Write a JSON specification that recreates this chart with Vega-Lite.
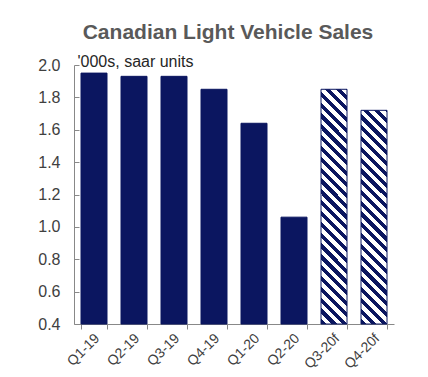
{
  "$schema": "https://vega.github.io/schema/vega-lite/v6.json",
  "width": 320,
  "height": 259,
  "autosize": "none",
  "padding": {"left": 74, "top": 65, "right": 34, "bottom": 53},
  "config": {"view": {"stroke": null}, "font": "Liberation Sans"},
  "title": {"text": "Canadian Light Vehicle Sales", "fontSize": 21, "fontWeight": "bold", "color": "#595959", "anchor": "middle", "frame": "group", "dx": -6, "offset": 10},
  "data": {"values": [
    {"quarter": "Q1-19", "value": 1.95},
    {"quarter": "Q2-19", "value": 1.93},
    {"quarter": "Q3-19", "value": 1.93},
    {"quarter": "Q4-19", "value": 1.85},
    {"quarter": "Q1-20", "value": 1.64},
    {"quarter": "Q2-20", "value": 1.06},
    {"quarter": "Q3-20f", "value": 1.85},
    {"quarter": "Q4-20f", "value": 1.72}
  ]},
  "mark": {"type": "bar", "stroke": "#0b1660", "strokeWidth": 1},
  "encoding": {
    "x": {"field": "quarter", "type": "nominal", "sort": null,
      "scale": {"paddingInner": 0.35, "paddingOuter": 0.175},
      "axis": {"title": null, "labelAngle": -45, "labelFontSize": 14, "labelColor": "#404040", "domainColor": "#888888", "tickColor": "#888888", "tickSize": 5, "tickBand": "extent", "labelPadding": 2, "labelOffset": -2}},
    "y": {"field": "value", "type": "quantitative",
      "scale": {"domain": [0.4, 2.0], "zero": false, "nice": false},
      "axis": {"values": [0.4, 0.6, 0.8, 1.0, 1.2, 1.4, 1.6, 1.8, 2.0], "format": ".1f", "grid": false, "labelFontSize": 16, "labelColor": "#404040", "domainColor": "#888888", "tickColor": "#888888", "tickSize": -5, "labelPadding": 19,
        "title": "'000s, saar units", "titleAngle": 0, "titleAlign": "left", "titleBaseline": "alphabetic", "titleX": 3, "titleY": 1, "titleFontSize": 16, "titleFontWeight": "normal", "titleColor": "#262626"}},
    "y2": {"datum": 0.4},
    "fill": {
      "condition": [
        {"test": "datum.quarter === 'Q3-20f'", "value": {"gradient": "linear", "x1": 0, "y1": 1, "x2": 0.12195, "y2": -0.0976, "stops": [
          {"offset": 0, "color": "#0b1660"}, {"offset": 0.02, "color": "#0b1660"}, {"offset": 0.02, "color": "#ffffff"}, {"offset": 0.04154, "color": "#ffffff"},
          {"offset": 0.04154, "color": "#0b1660"}, {"offset": 0.06154, "color": "#0b1660"}, {"offset": 0.06154, "color": "#ffffff"}, {"offset": 0.08308, "color": "#ffffff"},
          {"offset": 0.08308, "color": "#0b1660"}, {"offset": 0.10308, "color": "#0b1660"}, {"offset": 0.10308, "color": "#ffffff"}, {"offset": 0.12462, "color": "#ffffff"},
          {"offset": 0.12462, "color": "#0b1660"}, {"offset": 0.14462, "color": "#0b1660"}, {"offset": 0.14462, "color": "#ffffff"}, {"offset": 0.16615, "color": "#ffffff"},
          {"offset": 0.16615, "color": "#0b1660"}, {"offset": 0.18615, "color": "#0b1660"}, {"offset": 0.18615, "color": "#ffffff"}, {"offset": 0.20769, "color": "#ffffff"},
          {"offset": 0.20769, "color": "#0b1660"}, {"offset": 0.22769, "color": "#0b1660"}, {"offset": 0.22769, "color": "#ffffff"}, {"offset": 0.24923, "color": "#ffffff"},
          {"offset": 0.24923, "color": "#0b1660"}, {"offset": 0.26923, "color": "#0b1660"}, {"offset": 0.26923, "color": "#ffffff"}, {"offset": 0.29077, "color": "#ffffff"},
          {"offset": 0.29077, "color": "#0b1660"}, {"offset": 0.31077, "color": "#0b1660"}, {"offset": 0.31077, "color": "#ffffff"}, {"offset": 0.33231, "color": "#ffffff"},
          {"offset": 0.33231, "color": "#0b1660"}, {"offset": 0.35231, "color": "#0b1660"}, {"offset": 0.35231, "color": "#ffffff"}, {"offset": 0.37385, "color": "#ffffff"},
          {"offset": 0.37385, "color": "#0b1660"}, {"offset": 0.39385, "color": "#0b1660"}, {"offset": 0.39385, "color": "#ffffff"}, {"offset": 0.41538, "color": "#ffffff"},
          {"offset": 0.41538, "color": "#0b1660"}, {"offset": 0.43538, "color": "#0b1660"}, {"offset": 0.43538, "color": "#ffffff"}, {"offset": 0.45692, "color": "#ffffff"},
          {"offset": 0.45692, "color": "#0b1660"}, {"offset": 0.47692, "color": "#0b1660"}, {"offset": 0.47692, "color": "#ffffff"}, {"offset": 0.49846, "color": "#ffffff"},
          {"offset": 0.49846, "color": "#0b1660"}, {"offset": 0.51846, "color": "#0b1660"}, {"offset": 0.51846, "color": "#ffffff"}, {"offset": 0.54, "color": "#ffffff"},
          {"offset": 0.54, "color": "#0b1660"}, {"offset": 0.56, "color": "#0b1660"}, {"offset": 0.56, "color": "#ffffff"}, {"offset": 0.58154, "color": "#ffffff"},
          {"offset": 0.58154, "color": "#0b1660"}, {"offset": 0.60154, "color": "#0b1660"}, {"offset": 0.60154, "color": "#ffffff"}, {"offset": 0.62308, "color": "#ffffff"},
          {"offset": 0.62308, "color": "#0b1660"}, {"offset": 0.64308, "color": "#0b1660"}, {"offset": 0.64308, "color": "#ffffff"}, {"offset": 0.66462, "color": "#ffffff"},
          {"offset": 0.66462, "color": "#0b1660"}, {"offset": 0.68462, "color": "#0b1660"}, {"offset": 0.68462, "color": "#ffffff"}, {"offset": 0.70615, "color": "#ffffff"},
          {"offset": 0.70615, "color": "#0b1660"}, {"offset": 0.72615, "color": "#0b1660"}, {"offset": 0.72615, "color": "#ffffff"}, {"offset": 0.74769, "color": "#ffffff"},
          {"offset": 0.74769, "color": "#0b1660"}, {"offset": 0.76769, "color": "#0b1660"}, {"offset": 0.76769, "color": "#ffffff"}, {"offset": 0.78923, "color": "#ffffff"},
          {"offset": 0.78923, "color": "#0b1660"}, {"offset": 0.80923, "color": "#0b1660"}, {"offset": 0.80923, "color": "#ffffff"}, {"offset": 0.83077, "color": "#ffffff"},
          {"offset": 0.83077, "color": "#0b1660"}, {"offset": 0.85077, "color": "#0b1660"}, {"offset": 0.85077, "color": "#ffffff"}, {"offset": 0.87231, "color": "#ffffff"},
          {"offset": 0.87231, "color": "#0b1660"}, {"offset": 0.89231, "color": "#0b1660"}, {"offset": 0.89231, "color": "#ffffff"}, {"offset": 0.91385, "color": "#ffffff"},
          {"offset": 0.91385, "color": "#0b1660"}, {"offset": 0.93385, "color": "#0b1660"}, {"offset": 0.93385, "color": "#ffffff"}, {"offset": 0.95538, "color": "#ffffff"},
          {"offset": 0.95538, "color": "#0b1660"}, {"offset": 0.97538, "color": "#0b1660"}, {"offset": 0.97538, "color": "#ffffff"}, {"offset": 0.99692, "color": "#ffffff"},
          {"offset": 0.99692, "color": "#0b1660"}, {"offset": 1, "color": "#0b1660"}
        ]}},
        {"test": "datum.quarter === 'Q4-20f'", "value": {"gradient": "linear", "x1": 0, "y1": 1, "x2": 0.13428, "y2": -0.10518, "stops": [
          {"offset": 0, "color": "#0b1660"}, {"offset": 0.02167, "color": "#0b1660"}, {"offset": 0.02167, "color": "#ffffff"}, {"offset": 0.045, "color": "#ffffff"},
          {"offset": 0.045, "color": "#0b1660"}, {"offset": 0.06667, "color": "#0b1660"}, {"offset": 0.06667, "color": "#ffffff"}, {"offset": 0.09, "color": "#ffffff"},
          {"offset": 0.09, "color": "#0b1660"}, {"offset": 0.11167, "color": "#0b1660"}, {"offset": 0.11167, "color": "#ffffff"}, {"offset": 0.135, "color": "#ffffff"},
          {"offset": 0.135, "color": "#0b1660"}, {"offset": 0.15667, "color": "#0b1660"}, {"offset": 0.15667, "color": "#ffffff"}, {"offset": 0.18, "color": "#ffffff"},
          {"offset": 0.18, "color": "#0b1660"}, {"offset": 0.20167, "color": "#0b1660"}, {"offset": 0.20167, "color": "#ffffff"}, {"offset": 0.225, "color": "#ffffff"},
          {"offset": 0.225, "color": "#0b1660"}, {"offset": 0.24667, "color": "#0b1660"}, {"offset": 0.24667, "color": "#ffffff"}, {"offset": 0.27, "color": "#ffffff"},
          {"offset": 0.27, "color": "#0b1660"}, {"offset": 0.29167, "color": "#0b1660"}, {"offset": 0.29167, "color": "#ffffff"}, {"offset": 0.315, "color": "#ffffff"},
          {"offset": 0.315, "color": "#0b1660"}, {"offset": 0.33667, "color": "#0b1660"}, {"offset": 0.33667, "color": "#ffffff"}, {"offset": 0.36, "color": "#ffffff"},
          {"offset": 0.36, "color": "#0b1660"}, {"offset": 0.38167, "color": "#0b1660"}, {"offset": 0.38167, "color": "#ffffff"}, {"offset": 0.405, "color": "#ffffff"},
          {"offset": 0.405, "color": "#0b1660"}, {"offset": 0.42667, "color": "#0b1660"}, {"offset": 0.42667, "color": "#ffffff"}, {"offset": 0.45, "color": "#ffffff"},
          {"offset": 0.45, "color": "#0b1660"}, {"offset": 0.47167, "color": "#0b1660"}, {"offset": 0.47167, "color": "#ffffff"}, {"offset": 0.495, "color": "#ffffff"},
          {"offset": 0.495, "color": "#0b1660"}, {"offset": 0.51667, "color": "#0b1660"}, {"offset": 0.51667, "color": "#ffffff"}, {"offset": 0.54, "color": "#ffffff"},
          {"offset": 0.54, "color": "#0b1660"}, {"offset": 0.56167, "color": "#0b1660"}, {"offset": 0.56167, "color": "#ffffff"}, {"offset": 0.585, "color": "#ffffff"},
          {"offset": 0.585, "color": "#0b1660"}, {"offset": 0.60667, "color": "#0b1660"}, {"offset": 0.60667, "color": "#ffffff"}, {"offset": 0.63, "color": "#ffffff"},
          {"offset": 0.63, "color": "#0b1660"}, {"offset": 0.65167, "color": "#0b1660"}, {"offset": 0.65167, "color": "#ffffff"}, {"offset": 0.675, "color": "#ffffff"},
          {"offset": 0.675, "color": "#0b1660"}, {"offset": 0.69667, "color": "#0b1660"}, {"offset": 0.69667, "color": "#ffffff"}, {"offset": 0.72, "color": "#ffffff"},
          {"offset": 0.72, "color": "#0b1660"}, {"offset": 0.74167, "color": "#0b1660"}, {"offset": 0.74167, "color": "#ffffff"}, {"offset": 0.765, "color": "#ffffff"},
          {"offset": 0.765, "color": "#0b1660"}, {"offset": 0.78667, "color": "#0b1660"}, {"offset": 0.78667, "color": "#ffffff"}, {"offset": 0.81, "color": "#ffffff"},
          {"offset": 0.81, "color": "#0b1660"}, {"offset": 0.83167, "color": "#0b1660"}, {"offset": 0.83167, "color": "#ffffff"}, {"offset": 0.855, "color": "#ffffff"},
          {"offset": 0.855, "color": "#0b1660"}, {"offset": 0.87667, "color": "#0b1660"}, {"offset": 0.87667, "color": "#ffffff"}, {"offset": 0.9, "color": "#ffffff"},
          {"offset": 0.9, "color": "#0b1660"}, {"offset": 0.92167, "color": "#0b1660"}, {"offset": 0.92167, "color": "#ffffff"}, {"offset": 0.945, "color": "#ffffff"},
          {"offset": 0.945, "color": "#0b1660"}, {"offset": 0.96667, "color": "#0b1660"}, {"offset": 0.96667, "color": "#ffffff"}, {"offset": 0.99, "color": "#ffffff"},
          {"offset": 0.99, "color": "#0b1660"}, {"offset": 1, "color": "#0b1660"}
        ]}}
      ],
      "value": "#0b1660"
    }
  }
}
